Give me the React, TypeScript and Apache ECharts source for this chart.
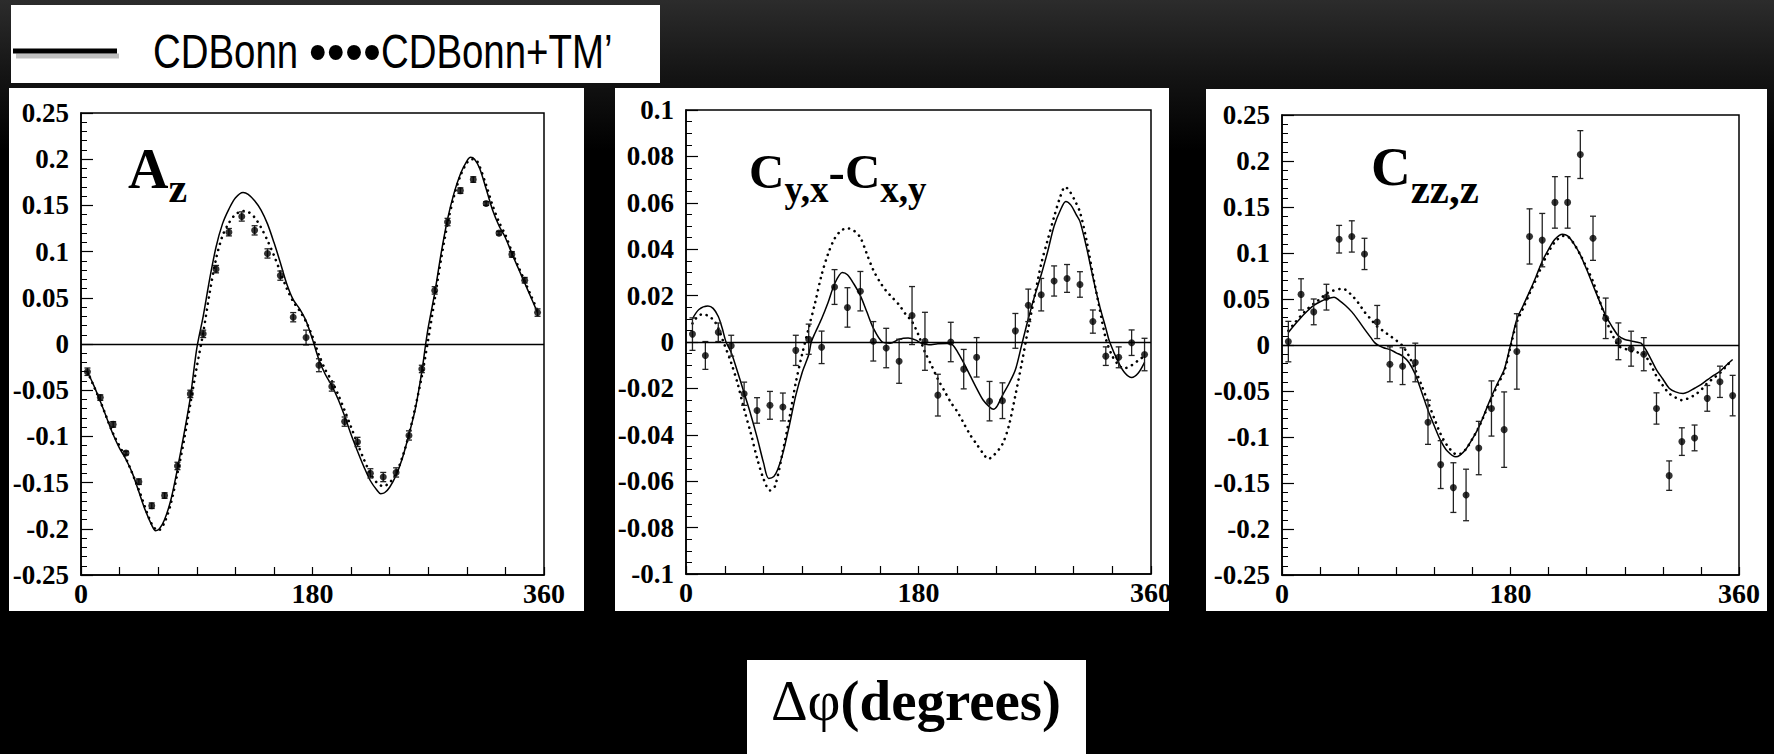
import React, { useEffect, useRef } from "react";
import * as echarts from "echarts";

const W = 1774;
const H = 754;
const SERIF = '"Liberation Serif", "Times New Roman", serif';
const SANS = '"Liberation Sans", Arial, sans-serif';

// ---------- data ----------
const phiLabels = [0, 180, 360];
const pointAngles = [5, 15, 25, 35, 45, 55, 65, 75, 85, 95, 105, 115, 125, 135, 145, 155, 165, 175,
  185, 195, 205, 215, 225, 235, 245, 255, 265, 275, 285, 295, 305, 315, 325, 335, 345, 355];

// A_z
const azValues = [-0.030, -0.058, -0.087, -0.118, -0.149, -0.175, -0.164, -0.132, -0.054, 0.011, 0.081, 0.121,
  0.138, 0.123, 0.098, 0.074, 0.029, 0.007, -0.023, -0.046, -0.084, -0.106, -0.140, -0.144,
  -0.139, -0.099, -0.027, 0.058, 0.132, 0.166, 0.178, 0.152, 0.120, 0.097, 0.069, 0.034];
const azErrors = [0.004, 0.003, 0.003, 0.002, 0.003, 0.003, 0.003, 0.004, 0.004, 0.004, 0.004, 0.004,
  0.005, 0.005, 0.005, 0.005, 0.005, 0.008, 0.007, 0.005, 0.005, 0.005, 0.005, 0.005,
  0.005, 0.005, 0.004, 0.004, 0.004, 0.003, 0.003, 0.002, 0.002, 0.003, 0.003, 0.004];
const azSolid: [number, number][] = [[5, -0.030], [10, -0.045], [15, -0.062], [20, -0.080], [25, -0.098], [30, -0.113],
  [35, -0.125], [40, -0.140], [45, -0.160], [50, -0.180], [55, -0.196], [58, -0.202], [61, -0.200], [65, -0.190],
  [70, -0.168], [75, -0.135], [80, -0.098], [85, -0.058], [90, -0.005], [95, 0.030], [100, 0.070], [105, 0.105],
  [110, 0.130], [115, 0.146], [120, 0.158], [126, 0.164], [130, 0.162], [135, 0.155], [140, 0.145], [145, 0.130],
  [150, 0.110], [155, 0.088], [160, 0.065], [165, 0.048], [170, 0.038], [175, 0.025], [180, 0.005], [185, -0.017],
  [190, -0.033], [195, -0.045], [200, -0.060], [205, -0.078], [210, -0.098], [215, -0.116], [220, -0.133],
  [225, -0.148], [230, -0.158], [233, -0.162], [236, -0.161], [240, -0.155], [245, -0.142], [250, -0.123],
  [255, -0.098], [260, -0.070], [265, -0.030], [268, 0.000], [270, 0.018], [275, 0.055], [280, 0.098],
  [285, 0.135], [290, 0.163], [295, 0.184], [300, 0.198], [303, 0.202], [306, 0.200], [310, 0.190], [315, 0.168],
  [320, 0.145], [325, 0.128], [330, 0.115], [335, 0.098], [340, 0.082], [345, 0.066], [350, 0.050], [355, 0.034]];
const azDotted: [number, number][] = [[5, -0.030], [15, -0.062], [25, -0.097], [35, -0.124], [45, -0.158],
  [55, -0.195], [60, -0.202], [65, -0.193], [70, -0.172], [75, -0.140], [80, -0.105], [85, -0.065], [90, -0.025],
  [95, 0.012], [100, 0.055], [105, 0.092], [110, 0.117], [115, 0.131], [120, 0.140], [126, 0.144], [130, 0.143],
  [135, 0.137], [140, 0.126], [145, 0.112], [150, 0.096], [155, 0.078], [160, 0.060], [165, 0.046], [170, 0.036],
  [175, 0.024], [180, 0.008], [185, -0.012], [190, -0.028], [195, -0.040], [200, -0.055], [205, -0.072],
  [210, -0.090], [215, -0.108], [220, -0.125], [225, -0.140], [230, -0.150], [235, -0.154], [240, -0.150],
  [245, -0.140], [250, -0.122], [255, -0.098], [260, -0.068], [265, -0.035], [270, 0.005], [275, 0.048],
  [280, 0.092], [285, 0.130], [290, 0.160], [295, 0.182], [300, 0.196], [304, 0.200], [308, 0.198], [315, 0.172],
  [320, 0.150], [325, 0.132], [330, 0.118], [335, 0.100], [340, 0.084], [345, 0.068], [350, 0.052], [355, 0.036]];

// C_yx - C_xy
const cyxValues = [0.0034, -0.0058, 0.0042, -0.0016, -0.0223, -0.0295, -0.0273, -0.028, -0.0036, 0.0012, -0.0023,
  0.0237, 0.0149, 0.0219, 0.0003, -0.0026, -0.0083, 0.0114, 0.0003, -0.0229, 0.0000, -0.0117, -0.0066, -0.0255,
  -0.0253, 0.0048, 0.0158, 0.0204, 0.0263, 0.0274, 0.0248, 0.0088, -0.0061, -0.0066, -0.0003, -0.0054];
const cyxErrors = [0.007, 0.006, 0.004, 0.0045, 0.005, 0.0055, 0.006, 0.006, 0.0065, 0.0065, 0.007, 0.0075,
  0.0085, 0.0085, 0.0085, 0.0085, 0.0095, 0.0125, 0.0125, 0.009, 0.0085, 0.0085, 0.0085, 0.0085, 0.0077,
  0.0075, 0.007, 0.007, 0.0065, 0.006, 0.0055, 0.005, 0.004, 0.0045, 0.0055, 0.007];
const cyxSolid: [number, number][] = [[5, 0.010], [10, 0.014], [17, 0.0155], [21, 0.0145], [25, 0.011], [28, 0.006],
  [31, 0.000], [35, -0.0045], [40, -0.013], [45, -0.022], [50, -0.031], [55, -0.041], [60, -0.052], [64, -0.0588],
  [68, -0.058], [71, -0.055], [75, -0.048], [80, -0.036], [85, -0.023], [90, -0.013], [95, -0.0055], [97, 0.000],
  [100, 0.004], [105, 0.010], [110, 0.017], [115, 0.025], [121, 0.030], [125, 0.029], [130, 0.025], [135, 0.020],
  [140, 0.013], [145, 0.006], [152, 0.000], [158, -0.0005], [165, 0.0012], [172, 0.0017], [178, 0.0008],
  [182, -0.0005], [188, -0.0012], [195, -0.0008], [202, -0.0006], [206, -0.001], [210, -0.004], [215, -0.009],
  [220, -0.0145], [225, -0.020], [230, -0.025], [235, -0.028], [238, -0.029], [241, -0.0275], [245, -0.023],
  [250, -0.018], [255, -0.012], [260, -0.001], [265, 0.010], [270, 0.020], [275, 0.029], [280, 0.039],
  [285, 0.050], [290, 0.057], [294, 0.0606], [298, 0.059], [302, 0.055], [305, 0.052], [310, 0.041], [315, 0.028],
  [320, 0.016], [325, 0.006], [328, 0.000], [335, -0.009], [340, -0.0135], [345, -0.0153], [350, -0.0135],
  [355, -0.0088]];
const cyxDotted: [number, number][] = [[5, 0.008], [9, 0.011], [13, 0.012], [18, 0.011], [22, 0.009], [25, 0.006],
  [29, 0.000], [35, -0.009], [40, -0.018], [45, -0.029], [50, -0.039], [55, -0.050], [60, -0.059], [65, -0.064],
  [69, -0.062], [75, -0.047], [80, -0.033], [85, -0.0175], [90, -0.005], [95, 0.006], [100, 0.017], [105, 0.029],
  [110, 0.038], [115, 0.0445], [120, 0.048], [125, 0.049], [130, 0.048], [135, 0.045], [140, 0.038], [145, 0.031],
  [150, 0.026], [155, 0.022], [160, 0.019], [165, 0.016], [170, 0.012], [175, 0.0088], [180, 0.003],
  [185, -0.0044], [190, -0.010], [195, -0.016], [200, -0.021], [205, -0.026], [210, -0.030], [215, -0.035],
  [220, -0.040], [225, -0.044], [230, -0.048], [234, -0.0504], [238, -0.049], [245, -0.044], [250, -0.036],
  [255, -0.023], [260, -0.009], [265, 0.006], [270, 0.020], [275, 0.0336], [280, 0.044], [285, 0.054],
  [290, 0.063], [293.5, 0.0669], [297, 0.065], [301, 0.061], [305, 0.056], [310, 0.044], [315, 0.029],
  [320, 0.015], [325, 0.0015], [330, -0.006], [335, -0.010], [339, -0.0114], [345, -0.010], [350, -0.008],
  [355, -0.006]];

// C_zz,z
const czzValues = [0.0037, 0.055, 0.036, 0.052, 0.115, 0.118, 0.099, 0.025, -0.021, -0.023, -0.019, -0.084,
  -0.130, -0.155, -0.163, -0.112, -0.069, -0.092, -0.007, 0.118, 0.114, 0.155, 0.155, 0.207, 0.116, 0.029,
  0.004, -0.004, -0.010, -0.069, -0.142, -0.105, -0.101, -0.058, -0.040, -0.055];
const czzErrors = [0.022, 0.017, 0.014, 0.014, 0.015, 0.017, 0.017, 0.018, 0.019, 0.02, 0.021, 0.024, 0.026,
  0.027, 0.028, 0.029, 0.03, 0.041, 0.041, 0.03, 0.029, 0.028, 0.028, 0.026, 0.024, 0.022, 0.02, 0.019, 0.018,
  0.017, 0.016, 0.015, 0.014, 0.014, 0.017, 0.022];
const czzSolid: [number, number][] = [[5, 0.0136], [10, 0.022], [15, 0.030], [20, 0.037], [25, 0.043], [30, 0.047],
  [35, 0.050], [41, 0.052], [45, 0.0486], [50, 0.043], [55, 0.036], [60, 0.027], [65, 0.0173], [70, 0.008],
  [73, 0.0026], [76, -0.0004], [80, -0.003], [85, -0.005], [90, -0.0085], [95, -0.012], [100, -0.019],
  [105, -0.032], [110, -0.051], [115, -0.071], [120, -0.088], [125, -0.104], [130, -0.115], [137, -0.1216],
  [140, -0.120], [145, -0.113], [150, -0.102], [155, -0.0895], [160, -0.073], [165, -0.056], [170, -0.041],
  [175, -0.027], [180, 0.000], [185, 0.028], [190, 0.043], [195, 0.058], [200, 0.074], [205, 0.091],
  [210, 0.104], [215, 0.115], [221, 0.1205], [225, 0.1186], [230, 0.110], [235, 0.098], [240, 0.082],
  [245, 0.065], [250, 0.048], [255, 0.032], [260, 0.020], [265, 0.010], [270, 0.006], [275, 0.0044],
  [280, 0.003], [283, 0.0018], [288, -0.0085], [295, -0.027], [300, -0.037], [305, -0.047], [310, -0.051],
  [316, -0.0527], [320, -0.051], [325, -0.047], [330, -0.043], [335, -0.038], [340, -0.033], [345, -0.0287],
  [350, -0.022], [355, -0.0158]];
const czzDotted: [number, number][] = [[5, 0.0155], [10, 0.024], [15, 0.032], [20, 0.039], [25, 0.045], [30, 0.050],
  [35, 0.056], [40, 0.059], [47, 0.061], [50, 0.060], [55, 0.054], [60, 0.046], [65, 0.036], [70, 0.028],
  [75, 0.020], [80, 0.015], [85, 0.010], [90, 0.005], [95, -0.001], [100, -0.012], [105, -0.027], [110, -0.044],
  [115, -0.062], [120, -0.080], [125, -0.097], [130, -0.109], [135, -0.117], [138, -0.119], [141, -0.118],
  [145, -0.113], [150, -0.102], [155, -0.0895], [160, -0.074], [165, -0.058], [170, -0.043], [175, -0.029],
  [180, -0.002], [185, 0.025], [190, 0.040], [195, 0.056], [200, 0.071], [205, 0.087], [210, 0.101],
  [215, 0.112], [222, 0.1186], [226, 0.117], [230, 0.110], [235, 0.098], [240, 0.084], [245, 0.069],
  [250, 0.049], [255, 0.028], [260, 0.012], [265, -0.001], [270, -0.004], [275, -0.0066], [280, -0.008],
  [285, -0.010], [290, -0.020], [295, -0.034], [300, -0.044], [305, -0.0527], [310, -0.057], [315, -0.060],
  [320, -0.058], [325, -0.0545], [330, -0.049], [335, -0.0416], [340, -0.036], [345, -0.0306], [350, -0.023],
  [355, -0.0158]];

const legendParts = ["CDBonn ", "\u2022\u2022\u2022\u2022", "CDBonn+TM\u2019"];
const xAxisTitle = ["\u0394\u03c6", "(degrees)"];

// ---------- layout ----------
type Piece = { t: string; sub?: boolean };
const panels = [
  {
    values: azValues, errors: azErrors, solid: azSolid, dotted: azDotted,
    min: -0.25, max: 0.25, interval: 0.05, minor: 5,
    grid: { left: 81, top: 113, width: 463, height: 462 },
    card: [9, 88, 575, 523],
    title: [{ t: "A" }, { t: "z", sub: true }] as Piece[],
    tx: 128, tBase: 187, tSubBase: 201, big: 56, small: 42,
  },
  {
    values: cyxValues, errors: cyxErrors, solid: cyxSolid, dotted: cyxDotted,
    min: -0.1, max: 0.1, interval: 0.02, minor: 4,
    grid: { left: 686, top: 110, width: 465, height: 464 },
    card: [615, 88, 554, 523],
    title: [{ t: "C" }, { t: "y,x", sub: true }, { t: "-C" }, { t: "x,y", sub: true }] as Piece[],
    tx: 749, tBase: 187, tSubBase: 201, big: 49, small: 37,
  },
  {
    values: czzValues, errors: czzErrors, solid: czzSolid, dotted: czzDotted,
    min: -0.25, max: 0.25, interval: 0.05, minor: 5,
    grid: { left: 1282, top: 115, width: 457, height: 460 },
    card: [1206, 89, 561, 522],
    title: [{ t: "C" }, { t: "zz,z", sub: true }] as Piece[],
    tx: 1371, tBase: 184, tSubBase: 202, big: 55, small: 43,
  },
];

let measureCtx: CanvasRenderingContext2D | null = null;
function measure(text: string, font: string): number {
  if (!measureCtx) measureCtx = document.createElement("canvas").getContext("2d");
  if (!measureCtx) return text.length * 20;
  measureCtx.font = font;
  return measureCtx.measureText(text).width;
}

function piecesToText(pieces: { t: string; fs: number; base: number; weight: string }[], x0: number) {
  let x = x0;
  const els: any[] = [];
  for (const p of pieces) {
    els.push({
      type: "text",
      x,
      y: p.base - 0.32 * p.fs,
      z: 20,
      style: {
        text: p.t,
        fontFamily: SERIF,
        fontWeight: p.weight,
        fontSize: p.fs,
        fill: "#000",
        align: "left",
        verticalAlign: "middle",
      },
    });
    x += measure(p.t, `${p.weight} ${p.fs}px ${SERIF}`);
  }
  return els;
}

function errorBarItem(params: any, api: any) {
  const x = api.value(0);
  const y = api.value(1);
  const e = api.value(2);
  const p1 = api.coord([x, y + e]);
  const p2 = api.coord([x, y - e]);
  const w = 3;
  const style = { stroke: "#222", lineWidth: 1.3 };
  return {
    type: "group",
    children: [
      { type: "line", shape: { x1: p1[0], y1: p1[1], x2: p2[0], y2: p2[1] }, style },
      { type: "line", shape: { x1: p1[0] - w, y1: p1[1], x2: p1[0] + w, y2: p1[1] }, style },
      { type: "line", shape: { x1: p2[0] - w, y1: p2[1], x2: p2[0] + w, y2: p2[1] }, style },
    ],
  };
}

function buildOption() {
  const grids: any[] = [];
  const xAxes: any[] = [];
  const yAxes: any[] = [];
  const series: any[] = [];
  const graphics: any[] = [];

  graphics.push({
    type: "rect",
    z: -30,
    shape: { x: 0, y: 0, width: W, height: H },
    style: {
      fill: {
        type: "linear", x: 0, y: 0, x2: 0, y2: 1,
        colorStops: [
          { offset: 0, color: "#2c2c2c" },
          { offset: 0.1, color: "#141414" },
          { offset: 0.2, color: "#000000" },
          { offset: 1, color: "#000000" },
        ],
      },
    },
  });

  // legend box
  graphics.push({ type: "rect", z: -10, shape: { x: 11, y: 5, width: 649, height: 78 }, style: { fill: "#fff" } });
  graphics.push({
    type: "line", z: 5,
    shape: { x1: 16, y1: 56, x2: 119, y2: 56 },
    style: { stroke: "rgba(0,0,0,0.25)", lineWidth: 5 },
  });
  graphics.push({
    type: "line", z: 6,
    shape: { x1: 13, y1: 51, x2: 117, y2: 51 },
    style: { stroke: "#000", lineWidth: 5 },
  });
  const legFs = 48;
  const legScale = 0.8;
  const bulletFs = 56;
  const legendFont = `normal ${legFs}px ${SANS}`;
  const bulletFont = `normal ${bulletFs}px ${SANS}`;
  const lx0 = 153;
  const lx1 = lx0 + measure(legendParts[0], legendFont) * legScale;
  const lx2 = lx1 + measure(legendParts[1], bulletFont) * 0.92;
  [
    { t: legendParts[0], x: lx0, fs: legFs, sx: legScale },
    { t: legendParts[1], x: lx1, fs: bulletFs, sx: 0.92 },
    { t: legendParts[2], x: lx2, fs: legFs, sx: legScale },
  ].forEach((p) => {
    graphics.push({
      type: "text", z: 6, x: p.x, y: 51, scaleX: p.sx,
      style: {
        text: p.t, fontFamily: SANS, fontSize: p.fs, fill: "#000",
        align: "left", verticalAlign: "middle",
      },
    });
  });

  // bottom axis title box
  graphics.push({ type: "rect", z: -10, shape: { x: 747, y: 660, width: 339, height: 94 }, style: { fill: "#fff" } });
  const titleFs = 57;
  const wA = measure(xAxisTitle[0], `normal ${titleFs}px ${SERIF}`);
  const wB = measure(xAxisTitle[1], `bold ${titleFs}px ${SERIF}`);
  graphics.push(
    ...piecesToText(
      [
        { t: xAxisTitle[0], fs: titleFs, base: 719, weight: "normal" },
        { t: xAxisTitle[1], fs: titleFs, base: 719, weight: "bold" },
      ],
      916 - (wA + wB) / 2
    )
  );

  panels.forEach((p, i) => {
    graphics.push({
      type: "rect", z: -10,
      shape: { x: p.card[0], y: p.card[1], width: p.card[2], height: p.card[3] },
      style: { fill: "#fff" },
    });
    graphics.push(
      ...piecesToText(
        p.title.map((q) => ({
          t: q.t,
          fs: q.sub ? p.small : p.big,
          base: q.sub ? p.tSubBase : p.tBase,
          weight: "bold",
        })),
        p.tx
      )
    );

    grids.push({
      ...p.grid,
      show: true,
      backgroundColor: "transparent",
      borderColor: "#000",
      borderWidth: 1.5,
    });

    xAxes.push({
      type: "value",
      gridIndex: i,
      min: 0,
      max: 360,
      interval: 30,
      axisLine: { show: true, onZero: false, lineStyle: { color: "#000", width: 1.5 } },
      axisTick: { show: true, inside: true, length: 8, lineStyle: { color: "#000", width: 1.2 } },
      axisLabel: {
        formatter: (v: number) => (phiLabels.includes(v) ? String(v) : ""),
        fontFamily: SERIF,
        fontWeight: "bold",
        fontSize: 28,
        color: "#000",
        margin: 4,
      },
      splitLine: { show: false },
    });

    yAxes.push({
      type: "value",
      gridIndex: i,
      min: p.min,
      max: p.max,
      interval: p.interval,
      axisLine: { show: true, onZero: false, lineStyle: { color: "#000", width: 1.5 } },
      axisTick: { show: true, inside: true, length: 12, lineStyle: { color: "#000", width: 1.2 } },
      minorTick: { show: true, splitNumber: p.minor, length: 6, lineStyle: { color: "#000", width: 1 } },
      axisLabel: {
        fontFamily: SERIF,
        fontWeight: "bold",
        fontSize: 27,
        color: "#000",
        margin: 12,
      },
      splitLine: { show: false },
      minorSplitLine: { show: false },
    });

    series.push({
      type: "line",
      name: "CDBonn",
      xAxisIndex: i,
      yAxisIndex: i,
      data: p.solid,
      smooth: 0.3,
      showSymbol: false,
      symbol: "none",
      z: 3,
      lineStyle: { color: "#000", width: 1.5 },
      markLine: {
        silent: true,
        symbol: ["none", "none"],
        label: { show: false },
        lineStyle: { color: "#000", width: 1.4, type: "solid" },
        data: [{ yAxis: 0 }],
      },
    });
    series.push({
      type: "line",
      name: "CDBonn+TM'",
      xAxisIndex: i,
      yAxisIndex: i,
      data: p.dotted,
      smooth: 0.3,
      showSymbol: false,
      symbol: "none",
      z: 3,
      lineStyle: { color: "#000", width: 2.6, type: [0.1, 6], cap: "round" },
    });
    series.push({
      type: "custom",
      xAxisIndex: i,
      yAxisIndex: i,
      data: pointAngles.map((a, k) => [a, p.values[k], p.errors[k]]),
      encode: { x: 0, y: 1 },
      renderItem: errorBarItem,
      z: 4,
    });
    series.push({
      type: "scatter",
      xAxisIndex: i,
      yAxisIndex: i,
      data: pointAngles.map((a, k) => [a, p.values[k]]),
      symbol: "circle",
      symbolSize: 7,
      itemStyle: { color: "#000" },
      z: 5,
    });
  });

  return {
    animation: false,
    backgroundColor: "#000",
    grid: grids,
    xAxis: xAxes,
    yAxis: yAxes,
    series,
    graphic: { elements: graphics },
  };
}

export default function App() {
  const ref = useRef<HTMLDivElement>(null);
  useEffect(() => {
    document.body.style.margin = "0";
    document.body.style.background = "#000";
    if (!ref.current) return;
    const chart = echarts.init(ref.current, null, { renderer: "svg", width: W, height: H });
    chart.setOption(buildOption() as any);
    return () => chart.dispose();
  }, []);
  return <div ref={ref} style={{ width: W, height: H }} />;
}
